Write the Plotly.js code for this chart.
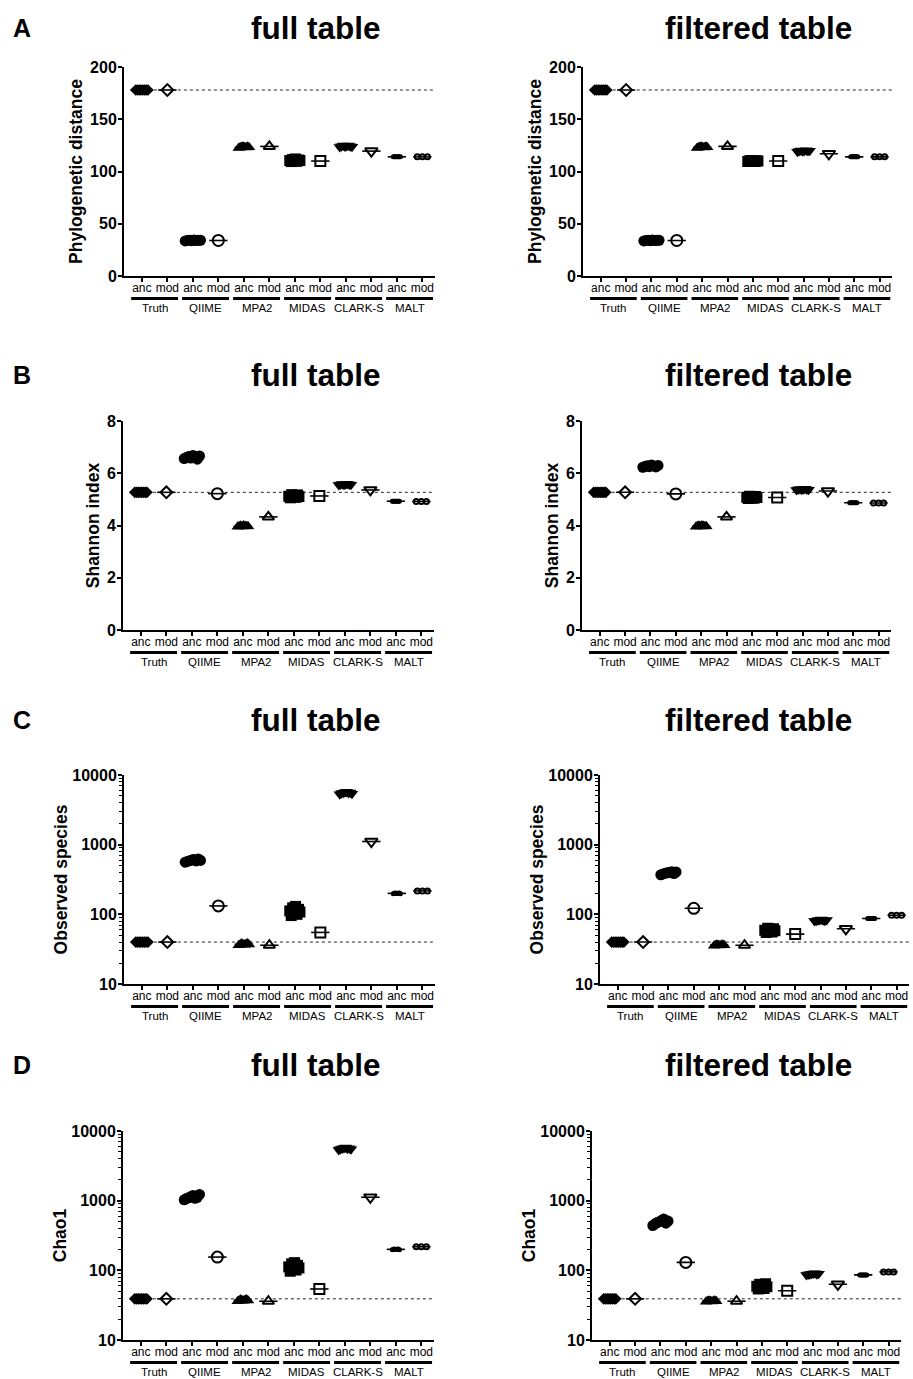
<!DOCTYPE html>
<html><head><meta charset="utf-8">
<script src="https://cdn.plot.ly/plotly-3.0.1.min.js"></script>
<style>html,body{margin:0;padding:0;background:#fff}</style>
</head><body><div id="chart" style="width:913px;height:1379px"></div>
<script>
// ---------------- data ----------------
const tools = ["Truth", "QIIME", "MPA2", "MIDAS", "CLARK-S", "MALT"];
const groupNames = ["anc", "mod"];
const metricNames = ["Phylogenetic distance", "Shannon index", "Observed species", "Chao1"];
const panelLetters = ["A", "B", "C", "D"];
const tableTitles = ["full table", "filtered table"];

// Phylogenetic distance
const phyloFull_anc = [
  [178, 178, 178, 178, 178, 178, 178, 178],
  [33.6, 34.0, 34.3, 33.8, 34.5, 33.9, 34.1, 34.2],
  [122.6, 123.0, 123.4, 123.8, 123.2, 122.9, 123.6, 123.1],
  [110.5, 109.5, 111.5, 110, 112, 109.8, 111, 110.5],
  [123.5, 124.2, 124.8, 123.9, 124.5, 125.0, 124.1, 123.7],
  [114, 114, 114, 114, 114, 114, 114, 114]
];
const phyloFull_mod = [[178], [34], [124], [110], [119.5], [114, 114, 114]];
const phyloFilt_anc = [
  [178, 178, 178, 178, 178, 178, 178, 178],
  [33.6, 34.0, 34.3, 33.8, 34.5, 33.9, 34.1, 34.2],
  [122.6, 123.0, 123.4, 123.8, 123.2, 122.9, 123.6, 123.1],
  [109.5, 110, 110.5, 109.8, 110.2, 109.6, 110.4, 110],
  [119.0, 119.6, 120.1, 119.3, 119.9, 120.3, 119.5, 119.8],
  [114, 114, 114, 114, 114, 114, 114, 114]
];
const phyloFilt_mod = [[178], [34], [124], [110], [117], [114, 114, 114]];

// Shannon index
const shannonFull_anc = [
  [5.27, 5.27, 5.27, 5.27, 5.27, 5.27, 5.27, 5.27],
  [6.56, 6.60, 6.64, 6.58, 6.68, 6.62, 6.54, 6.66],
  [3.95, 3.97, 3.99, 3.96, 4.00, 3.98, 3.96, 3.97],
  [5.12, 5.06, 5.18, 5.09, 5.15, 5.08, 5.17, 5.11],
  [5.55, 5.57, 5.59, 5.56, 5.58, 5.60, 5.57, 5.56],
  [4.93, 4.93, 4.93, 4.93, 4.93, 4.93, 4.93, 4.93]
];
const shannonFull_mod = [[5.27], [5.22], [4.33], [5.13], [5.36], [4.92, 4.92, 4.92]];
const shannonFilt_anc = [
  [5.27, 5.27, 5.27, 5.27, 5.27, 5.27, 5.27, 5.27],
  [6.23, 6.26, 6.29, 6.25, 6.32, 6.28, 6.24, 6.30],
  [3.95, 3.97, 3.99, 3.96, 4.00, 3.98, 3.96, 3.97],
  [5.08, 5.03, 5.12, 5.05, 5.10, 5.04, 5.11, 5.07],
  [5.36, 5.38, 5.40, 5.37, 5.39, 5.41, 5.38, 5.37],
  [4.87, 4.87, 4.87, 4.87, 4.87, 4.87, 4.87, 4.87]
];
const shannonFilt_mod = [[5.27], [5.21], [4.33], [5.07], [5.32], [4.86, 4.86, 4.86]];

// Observed species
const observedFull_anc = [
  [40, 40, 40, 40, 40, 40, 40, 40],
  [560, 575, 590, 600, 615, 585, 625, 595],
  [36, 37, 38, 37, 36.5, 37.5, 38, 37],
  [112, 96, 124, 104, 130, 100, 118, 108],
  [5300, 5450, 5550, 5650, 5750, 5500, 5600, 5400],
  [198, 200, 202, 199, 201, 200, 203, 197]
];
const observedFull_mod = [[40], [132], [36], [55], [1110], [217, 217, 217]];
const observedFilt_anc = [
  [40, 40, 40, 40, 40, 40, 40, 40],
  [370, 380, 390, 395, 400, 410, 385, 405],
  [35.5, 36, 36.5, 36, 35.8, 36.3, 36.6, 36],
  [59, 55, 63, 57, 61, 56, 62, 58],
  [80, 81, 82, 83, 84, 82, 81, 83],
  [87, 87, 87, 87, 87, 87, 87, 87]
];
const observedFilt_mod = [[40], [122], [36], [52], [62], [97, 97, 97]];

// Chao1
const chaoFull_anc = [
  [39, 39, 39, 39, 39, 39, 39, 39],
  [1030, 1070, 1100, 1140, 1190, 1080, 1120, 1230],
  [36, 37, 38, 37, 36.5, 37.5, 38, 37],
  [112, 97, 124, 104, 129, 101, 118, 108],
  [5350, 5500, 5600, 5700, 5800, 5550, 5650, 5450],
  [198, 200, 202, 199, 201, 200, 203, 197]
];
const chaoFull_mod = [[39], [155], [36], [54], [1120], [218, 218, 218]];
const chaoFilt_anc = [
  [39, 39, 39, 39, 39, 39, 39, 39],
  [440, 465, 485, 500, 520, 545, 475, 510],
  [35.5, 36, 36.5, 36, 35.8, 36.3, 36.6, 36],
  [59, 54, 63, 56, 61, 55, 64, 58],
  [86, 87, 88, 89, 90, 91, 88, 89],
  [86, 86, 86, 86, 86, 86, 86, 86]
];
const chaoFilt_mod = [[39], [130], [36], [51], [63], [95, 95, 95]];

const yTickVals = [[0, 50, 100, 150, 200], [0, 2, 4, 6, 8], [10, 100, 1000, 10000], [10, 100, 1000, 10000]];
const yTickText = [["0", "50", "100", "150", "200"], ["0", "2", "4", "6", "8"], ["10", "100", "1000", "10000"], ["10", "100", "1000", "10000"]];

// ---------------- layout / style ----------------
const W = 913, H = 1379;
const FONT = "Liberation Sans, Arial, Helvetica, sans-serif";
const rowsPx = [[67, 276], [421, 630], [775, 984], [1131, 1340]];
const colX0 = [[124, 583], [123, 582], [124, 600], [123, 592]];
const spacing = [25.5, 25.35];
const xLo = -0.7, xHi = 11.5;
const yType = ["linear", "linear", "log", "log"];
const yRange = [[0, 200], [0, 8], [1, 4], [1, 4]];
const titleStandoff = [3, 3, 0, 0];
const symbolsT = ["diamond", "circle", "triangle-up", "square", "triangle-down", "circle"];
const sizesAnc = [9, 11, 11, 11, 11, 5];
const sizesMod = [9, 11, 10, 10, 11, 5];
const spreadAnc = [0.24, 0.3, 0.2, 0.2, 0.24, 0.14];
const spreadMod = 0.2;
const meanHalf = 0.36;

const datasets = [
  [[phyloFull_anc, phyloFull_mod], [phyloFilt_anc, phyloFilt_mod]],
  [[shannonFull_anc, shannonFull_mod], [shannonFilt_anc, shannonFilt_mod]],
  [[observedFull_anc, observedFull_mod], [observedFilt_anc, observedFilt_mod]],
  [[chaoFull_anc, chaoFull_mod], [chaoFilt_anc, chaoFilt_mod]]
];

const mean = a => a.reduce((s, v) => s + v, 0) / a.length;
const py = p => 1 - p / H;
const px = p => p / W;

const traces = [];
const layout = {
  width: W, height: H,
  margin: {l: 0, r: 0, t: 0, b: 0},
  paper_bgcolor: "#fff", plot_bgcolor: "rgba(0,0,0,0)",
  showlegend: false,
  font: {family: FONT, color: "#000"},
  shapes: [], annotations: []
};

const tickVals = [], tickText = [];
for (let t = 0; t < tools.length; t++) {
  for (let g = 0; g < groupNames.length; g++) {
    tickVals.push(t * 2 + g);
    tickText.push(groupNames[g]);
  }
}

for (let r = 0; r < 4; r++) {
  const [topPx, botPx] = rowsPx[r];
  for (let c = 0; c < 2; c++) {
    const k = r * 2 + c + 1;
    const xn = "x" + (k === 1 ? "" : k), yn = "y" + (k === 1 ? "" : k);
    const xk = "xaxis" + (k === 1 ? "" : k), yk = "yaxis" + (k === 1 ? "" : k);
    const x0 = colX0[r][c];
    const x1 = x0 + (xHi - xLo) * spacing[c];
    const [anc, mod] = datasets[r][c];

    layout[xk] = {
      domain: [px(x0), px(x1)], range: [xLo, xHi], anchor: yn,
      showline: true, linewidth: 2, linecolor: "#000",
      ticks: "outside", ticklen: 4, tickwidth: 2, tickcolor: "#000",
      ticklabelstandoff: -4,
      tickvals: tickVals, ticktext: tickText,
      tickfont: {family: FONT, size: 12, color: "#000"},
      showgrid: false, zeroline: false, fixedrange: true
    };
    const ya = {
      domain: [py(botPx), py(topPx)], anchor: xn, type: yType[r],
      range: yRange[r], autorange: false,
      showline: true, linewidth: 2, linecolor: "#000",
      ticks: "outside", ticklen: 4, tickwidth: 2, tickcolor: "#000",
      ticklabelstandoff: -2,
      tickvals: yTickVals[r], ticktext: yTickText[r],
      tickfont: {family: FONT, size: 16, color: "#000", weight: "bold"},
      showgrid: false, zeroline: false, fixedrange: true,
      title: {text: metricNames[r], font: {family: FONT, size: 17.5, color: "#000", weight: "bold"}, standoff: titleStandoff[r]}
    };
    if (yType[r] === "log") {
      ya.minor = {ticks: "outside", ticklen: 3, tickwidth: 1, tickcolor: "#000", dtick: "D1", showgrid: false};
    }
    layout[yk] = ya;

    // scatter points
    const ax = [], ay = [], as = [], asz = [];
    const mx = [], my = [], ms = [], msz = [];
    const lx = [], ly = [];
    for (let t = 0; t < tools.length; t++) {
      const ca = t * 2, cm = t * 2 + 1;
      const va = anc[t], vm = mod[t];
      va.forEach((v, j) => {
        const off = va.length > 1 ? (j / (va.length - 1) - 0.5) * 2 * spreadAnc[t] : 0;
        ax.push(ca + off); ay.push(v); as.push(symbolsT[t]); asz.push(sizesAnc[t]);
      });
      vm.forEach((v, j) => {
        const off = vm.length > 1 ? (j / (vm.length - 1) - 0.5) * 2 * spreadMod : 0;
        mx.push(cm + off); my.push(v); ms.push(symbolsT[t]); msz.push(sizesMod[t]);
      });
      const ma = mean(va), mm = mean(vm);
      lx.push(ca - meanHalf, ca + meanHalf, null, cm - meanHalf, cm + meanHalf, null);
      ly.push(ma, ma, null, mm, mm, null);

      // group underline and group label
      layout.shapes.push({
        type: "line", xref: xn, yref: "paper",
        x0: ca - 0.42, x1: cm + 0.42, y0: py(botPx + 22.5), y1: py(botPx + 22.5),
        line: {color: "#000", width: 3}
      });
      layout.annotations.push({
        xref: xn, yref: "paper", x: (ca + cm) / 2, y: py(botPx + 32),
        text: tools[t], showarrow: false, xanchor: "center", yanchor: "middle",
        font: {family: FONT, size: 11.5, color: "#000"}
      });
    }
    // dotted reference line at Truth level
    const truthLevel = mean(anc[0]);
    layout.shapes.push({
      type: "line", xref: xn, yref: yn, x0: 0, x1: xHi, y0: truthLevel, y1: truthLevel,
      layer: "below", line: {color: "#222", width: 1, dash: "dot"}
    });

    traces.push({
      type: "scatter", mode: "markers", xaxis: xn, yaxis: yn, x: ax, y: ay,
      marker: {symbol: as, size: asz, color: "#000", opacity: 1, line: {width: 0}},
      hoverinfo: "skip"
    });
    traces.push({
      type: "scatter", mode: "markers", xaxis: xn, yaxis: yn, x: mx, y: my,
      marker: {symbol: ms, size: msz, color: "#fff", opacity: 1, line: {width: 2, color: "#000"}},
      hoverinfo: "skip"
    });
    traces.push({
      type: "scatter", mode: "lines", xaxis: xn, yaxis: yn, x: lx, y: ly,
      line: {color: "#000", width: 1.6}, connectgaps: false, hoverinfo: "skip"
    });
  }
  // panel letter and titles
  const ty = [28, 375, 720, 1065][r];
  layout.annotations.push({
    xref: "paper", yref: "paper", x: px(22), y: py(ty), text: panelLetters[r],
    showarrow: false, xanchor: "center", yanchor: "middle",
    font: {family: FONT, size: 25, color: "#000", weight: "bold"}
  });
  const tx = [316, 758];
  for (let c = 0; c < 2; c++) {
    layout.annotations.push({
      xref: "paper", yref: "paper", x: px(tx[c]), y: py(ty), text: tableTitles[c],
      showarrow: false, xanchor: "center", yanchor: "middle",
      font: {family: FONT, size: 31.5, color: "#000", weight: "bold"}
    });
  }
}

Plotly.newPlot("chart", traces, layout, {displayModeBar: false, staticPlot: true});
</script>
</body></html>
